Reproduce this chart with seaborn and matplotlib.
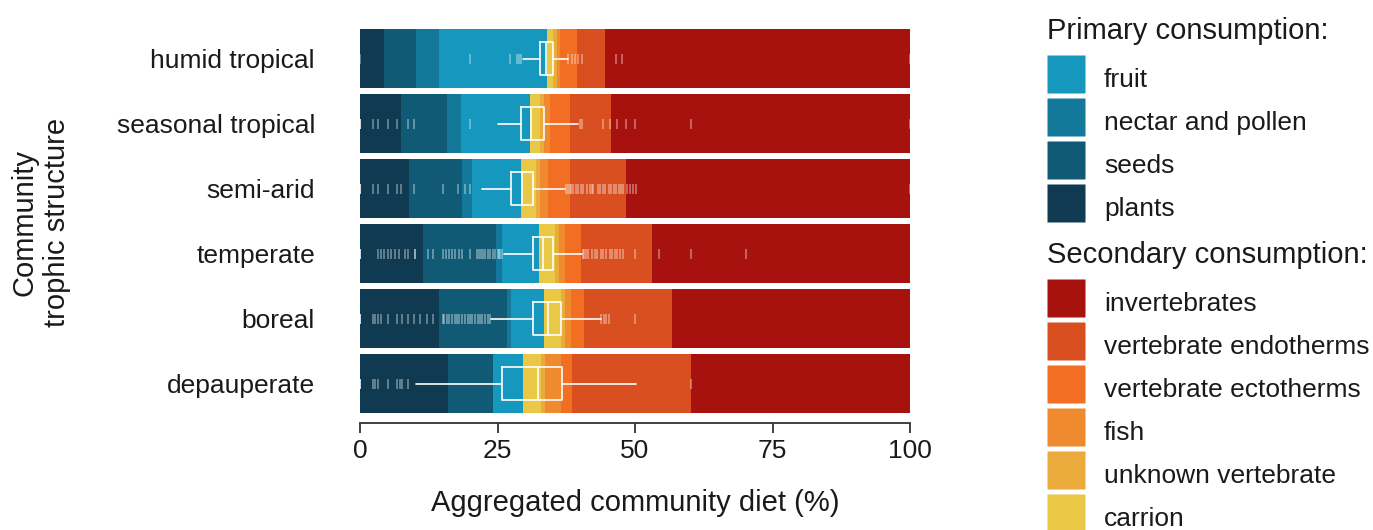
import numpy as np
import matplotlib
matplotlib.use("Agg")
import matplotlib.pyplot as plt
from matplotlib.lines import Line2D
import seaborn as sns

# ---------------------------------------------------------------- data
communities = ["humid tropical", "seasonal tropical", "semi-arid",
               "temperate", "boreal", "depauperate"]

# Aggregated diet shares (%) per community, stacked left to right
plants = [4.4, 7.4, 8.9, 11.5, 14.4, 16.0]
seeds = [5.8, 8.4, 9.7, 13.2, 12.3, 8.1]
nectar_pollen = [4.2, 2.6, 1.8, 1.1, 0.8, 0.1]
fruit = [19.6, 12.5, 8.9, 6.7, 6.0, 5.5]
carrion = [1.0, 1.8, 2.7, 3.0, 3.0, 3.2]
unknown_vertebrate = [0.8, 0.8, 0.7, 0.7, 0.7, 0.7]
fish = [0.6, 1.0, 1.4, 1.0, 1.2, 2.9]
vertebrate_ectotherms = [3.1, 3.7, 4.1, 2.9, 2.4, 2.1]
vertebrate_endotherms = [5.0, 7.5, 10.2, 13.0, 15.9, 21.6]
invertebrates = [55.5, 54.3, 51.6, 46.9, 43.3, 39.8]

# Species-level primary consumption (%) summarised per community
box_q1 = [32.8, 29.2, 27.5, 31.4, 31.5, 25.9]
box_median = [33.8, 31.0, 29.4, 33.3, 34.2, 32.3]
box_q3 = [35.0, 33.5, 31.4, 35.0, 36.5, 36.8]
whisker_low = [29.7, 25.0, 22.1, 26.1, 23.9, 10.1]
whisker_high = [37.9, 39.6, 37.3, 40.3, 43.9, 50.1]

# Species outside the whiskers
outliers_humid_tropical = [0, 20.0, 27.3, 28.6, 28.9, 29.2,
                           37.9, 38.5, 39.1, 39.7, 40.3, 46.5, 47.6, 100]
outliers_seasonal_tropical = [0, 0, 0, 0, 2.4, 3.3, 5.0, 6.7, 8.8, 9.9, 20.0,
                              40.0, 40.4, 44.1, 45.5, 46.8, 48.4, 50.0,
                              60.1, 100]
outliers_semi_arid = [0, 0, 0, 0, 2.4, 3.3, 5.0, 6.7, 7.5, 9.9, 15.0, 17.8,
                      19.1, 20.0,
                      37.5, 37.8, 38.1, 38.4, 38.8, 39.3, 39.7, 40.1, 40.6,
                      41.2, 41.8, 42.1, 42.4, 43.2, 43.6, 44.1, 44.5, 45.2,
                      45.6, 46.1, 46.5, 47.0, 47.5, 47.9, 48.5, 49.1, 49.7,
                      50.2, 100]
outliers_temperate = [0, 0, 0, 0, 3.3, 3.8, 4.4, 5.0, 5.6, 6.4, 7.1, 8.1,
                      8.8, 10.0, 10.0, 12.4, 13.2, 15.0, 15.6, 16.1, 16.8,
                      17.3, 18.0, 18.5, 20.0, 21.2, 21.6, 22.0, 22.4, 22.8,
                      23.2, 23.6, 24.1, 24.5, 25.0, 25.3, 25.5, 25.8,
                      40.5, 40.8, 41.1, 41.4, 42.1, 42.7, 43.0, 43.9, 44.2,
                      44.8, 45.5, 45.8, 46.4, 46.8, 47.3, 47.8, 50.0, 54.4,
                      60.1, 70.1]
outliers_boreal = [0, 0, 0, 0, 2.4, 2.8, 3.3, 3.8, 5.0, 6.7, 7.6, 8.7, 9.9,
                   10.9, 12.1, 13.2, 15.0, 15.3, 15.8, 16.2, 16.7, 17.2,
                   17.6, 18.0, 18.5, 19.0, 19.6, 20.0, 20.4, 20.9, 21.4,
                   21.8, 22.2, 22.7, 23.2, 23.6,
                   43.9, 44.3, 44.8, 45.3, 50.0]
outliers_depauperate = [0, 0, 0, 0, 2.4, 2.8, 3.3, 5.0, 6.7, 7.3, 7.6, 8.8,
                        60.1]

diet_labels = ["plants", "seeds", "nectar and pollen", "fruit", "carrion",
               "unknown vertebrate", "fish", "vertebrate ectotherms",
               "vertebrate endotherms", "invertebrates"]
diet_colors = ["#0F3A51", "#115A75", "#137899", "#1697BD", "#E9C846",
               "#EBAA3C", "#F08A2F", "#F26E22", "#D94F20", "#A8120E"]
primary_order = ["fruit", "nectar and pollen", "seeds", "plants"]
secondary_order = ["invertebrates", "vertebrate endotherms",
                   "vertebrate ectotherms", "fish", "unknown vertebrate",
                   "carrion"]

# ---------------------------------------------------------------- style
sns.set_theme(style="white")
plt.rcParams["font.family"] = ["Liberation Sans", "DejaVu Sans"]
plt.rcParams["text.color"] = "#1a1a1a"
plt.rcParams["axes.labelcolor"] = "#1a1a1a"
plt.rcParams["xtick.color"] = "#333333"
plt.rcParams["ytick.color"] = "#1a1a1a"
FS = 19         # tick labels and legend entries
FS_TITLE = 21   # axis titles and legend headings

W, H = 1373, 530
fig = plt.figure(figsize=(W / 100, H / 100), dpi=100)
ax_left, ax_right, ax_top, ax_bottom = 360, 910, 19.75, 422.7
ax = fig.add_axes([ax_left / W, 1 - ax_bottom / H,
                   (ax_right - ax_left) / W, (ax_bottom - ax_top) / H])

# ---------------------------------------------------------------- stacked bars
shares = np.array([plants, seeds, nectar_pollen, fruit, carrion,
                   unknown_vertebrate, fish, vertebrate_ectotherms,
                   vertebrate_endotherms, invertebrates])
cumulative = np.cumsum(shares, axis=0)
# draw the longest cumulative bar first so that each shorter one sits on top
for i in range(len(diet_labels) - 1, -1, -1):
    sns.barplot(x=cumulative[i], y=communities, order=communities,
                orient="h", color=diet_colors[i], saturation=1, width=0.9,
                errorbar=None, linewidth=0, ax=ax)

# ---------------------------------------------------------------- boxplots
stats = [dict(q1=a, med=m, q3=b, whislo=lo, whishi=hi, fliers=[])
         for a, m, b, lo, hi in zip(box_q1, box_median, box_q3,
                                    whisker_low, whisker_high)]
line = dict(color="white", linewidth=1.2)
ax.bxp(stats, positions=np.arange(len(communities)), widths=0.5,
       orientation="horizontal", showfliers=False, showcaps=False,
       boxprops=line, whiskerprops=line, medianprops=line,
       manage_ticks=False, zorder=5)

outlier_sets = [outliers_humid_tropical, outliers_seasonal_tropical,
                outliers_semi_arid, outliers_temperate, outliers_boreal,
                outliers_depauperate]
for pos, values in enumerate(outlier_sets):
    ax.plot(values, np.full(len(values), pos), ls="", marker="|",
            ms=6.5, mew=1.4, color="white", alpha=0.35, zorder=6)

# ---------------------------------------------------------------- axes
ax.set_xlim(0, 100)
ax.set_ylim(len(communities) - 0.4, -0.6)
ax.set_xticks([0, 25, 50, 75, 100])
ax.set_xticklabels(["0", "25", "50", "75", "100"])
for side in ["left", "right", "top"]:
    ax.spines[side].set_visible(False)
ax.spines["bottom"].set_color("#333333")
ax.spines["bottom"].set_linewidth(1.3)
ax.tick_params(axis="x", length=7.5, width=1.3, pad=4.5, labelsize=FS,
               labelcolor="#1a1a1a", bottom=True)
ax.tick_params(axis="y", length=0, pad=32.4, labelsize=FS)
ax.set_ylabel("")
ax.set_xlabel("Aggregated community diet (%)", fontsize=FS_TITLE)
ax.xaxis.label.set_va("center")
ax.xaxis.set_label_coords(0.5, (ax_bottom - 503) / (ax_bottom - ax_top))
ax.grid(False)

fig.text(41 / W, 1 - 222 / H, "Community\ntrophic structure", rotation=90,
         ha="center", va="center", multialignment="center",
         fontsize=FS_TITLE)

# ---------------------------------------------------------------- legends
color_of = dict(zip(diet_labels, diet_colors))


def swatches(names):
    return [Line2D([], [], ls="", marker="s", ms=27.4, mec="none",
                   mfc=color_of[n], label=n) for n in names]


legend_kw = dict(loc="upper left", frameon=False, borderpad=0,
                 borderaxespad=0, handlelength=1.44, handleheight=1.6,
                 labelspacing=0.345, handletextpad=0.72, fontsize=FS)
fig.text(1047 / W, 1 - 39 / H, "Primary consumption:", fontsize=FS_TITLE,
         ha="left", va="baseline")
fig.legend(handles=swatches(primary_order),
           bbox_to_anchor=(1047 / W, 1 - 61.5 / H), **legend_kw)
fig.text(1047 / W, 1 - 263 / H, "Secondary consumption:",
         fontsize=FS_TITLE, ha="left", va="baseline")
fig.legend(handles=swatches(secondary_order),
           bbox_to_anchor=(1047 / W, 1 - 285 / H), **legend_kw)

fig.savefig("out.png", dpi=100)
